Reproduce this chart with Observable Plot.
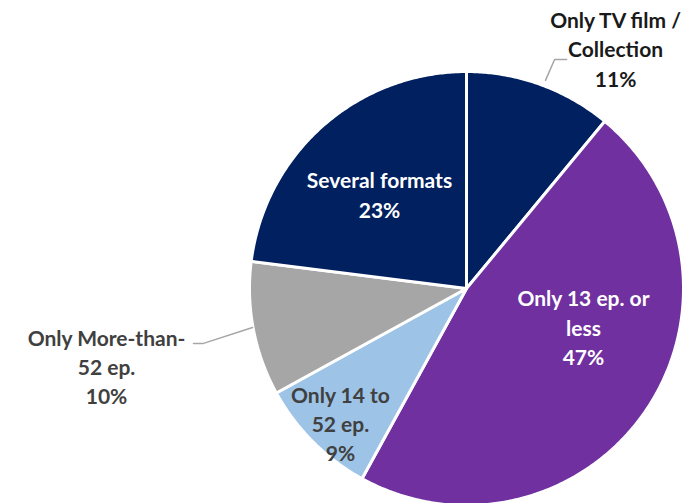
<!DOCTYPE html>
<html><head><meta charset="utf-8">
<script src="https://cdn.jsdelivr.net/npm/d3@7"></script>
<script src="https://cdn.jsdelivr.net/npm/@observablehq/plot@0.6"></script>
<style>body{margin:0;background:#fff;} #chart{width:692px;height:503px;overflow:hidden}</style>
</head><body><div id="chart"></div>
<script>
// Data
const categories = ["Only TV film / Collection", "Only 13 ep. or less", "Only 14 to 52 ep.", "Only More-than-52 ep.", "Several formats"];
const shares = [11, 47, 9, 10, 23];
const labelTexts = ["Only TV film /\nCollection\n11%", "Only 13 ep. or\nless\n47%", "Only 14 to\n52 ep.\n9%", "Only More-than-\n52 ep.\n10%", "Several formats\n23%"];
const colors = ["#002060", "#7030a0", "#9dc3e6", "#a6a6a6", "#002060"];
const textColors = ["#1a1a1a", "#ffffff", "#404040", "#404040", "#ffffff"];

// Layout (label anchors in pie units: radius = 1)
const labelX = [0.687, 0.539, -0.581, -1.659, -0.401];
const labelY = [1.108, -0.175, -0.618, -0.355, 0.438];
const leaders = [
  {slice: 0, pts: [[0.364, 0.959], [0.406, 1.055], [0.461, 1.055]]},
  {slice: 3, pts: [[-0.986, -0.180], [-1.212, -0.253], [-1.258, -0.253]]}
];

// Build slice polygons
const total = d3.sum(shares);
const slicePts = [];
let acc = 0;
categories.forEach((c, i) => {
  const a0 = acc / total * 2 * Math.PI;
  acc += shares[i];
  const a1 = acc / total * 2 * Math.PI;
  slicePts.push({cat: c, x: 0, y: 0});
  const n = Math.max(2, Math.ceil((a1 - a0) / (Math.PI / 360)));
  for (let k = 0; k <= n; k++) {
    const a = a0 + (a1 - a0) * k / n;
    slicePts.push({cat: c, x: Math.sin(a), y: Math.cos(a)});
  }
  slicePts.push({cat: c, x: 0, y: 0});
});
const labels = categories.map((c, i) => ({cat: c, text: labelTexts[i], x: labelX[i], y: labelY[i], color: textColors[i]}));
const leaderPts = leaders.flatMap((l, j) => l.pts.map(p => ({id: j, x: p[0], y: p[1]})));

const chart = Plot.plot({
  width: 692, height: 503,
  margin: 0,
  x: {domain: [-1, 1], range: [249, 683], axis: null},
  y: {domain: [-1, 1], range: [505, 71], axis: null},
  color: {domain: categories, range: colors},
  style: {fontFamily: "Lato, sans-serif", background: "#fff"},
  marks: [
    Plot.line(slicePts, {x: "x", y: "y", z: "cat", fill: "cat", stroke: "#fff", strokeWidth: 3, strokeLinejoin: "round", curve: "linear"}),
    Plot.line(leaderPts, {x: "x", y: "y", z: "id", stroke: "#a6a6a6", strokeWidth: 1.5}),
    Plot.text(labels, {x: "x", y: "y", text: "text", fill: d => d.color, fontSize: 21, fontWeight: "bold", lineHeight: 1.4, textAnchor: "middle"})
  ]
});
document.getElementById("chart").appendChild(chart);
</script>
</body></html>
